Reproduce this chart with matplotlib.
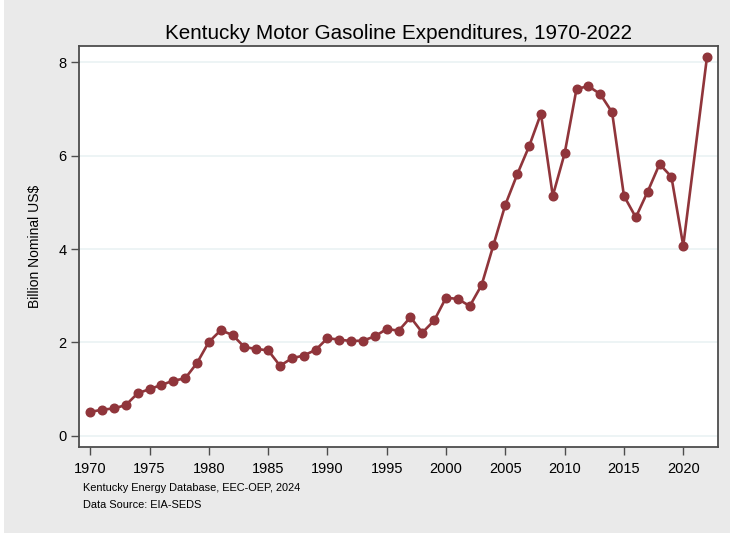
import matplotlib
matplotlib.use('Agg')
import matplotlib.pyplot as plt
import numpy as np

# ===================== data =====================
years = list(range(1970, 2021)) + [2022]
spend = [0.51, 0.56, 0.585, 0.66, 0.91, 1.00, 1.09, 1.18, 1.23, 1.56,
         2.01, 2.26, 2.16, 1.90, 1.86, 1.83, 1.50, 1.66, 1.72, 1.84,
         2.09, 2.06, 2.03, 2.04, 2.13, 2.29, 2.25, 2.54, 2.21, 2.47,
         2.96, 2.93, 2.78, 3.23, 4.09, 4.95, 5.60, 6.20, 6.90, 5.14,
         6.05, 7.43, 7.49, 7.32, 6.93, 5.14, 4.68, 5.23, 5.82, 5.55,
         4.07, 8.11]
xticks = [1970, 1975, 1980, 1985, 1990, 1995, 2000, 2005, 2010, 2015, 2020]
yticks = [0, 2, 4, 6, 8]

plt.rcParams['font.family'] = ['Liberation Sans', 'DejaVu Sans']

bg = '#EAEAEA'
red = '#90353B'

fig = plt.figure(figsize=(7.3, 5.33), dpi=100, facecolor=bg)
# thin white strip on the left edge
fig.patches.append(plt.Rectangle((0, 0), 4 / 730, 1, transform=fig.transFigure,
                                 facecolor='white', edgecolor='none', zorder=0))

ax = fig.add_axes([79 / 730, 1 - 447 / 533, (718 - 79) / 730, (447 - 46) / 533])
ax.set_facecolor('white')

ax.plot(years, spend, color=red, linewidth=1.9, marker='o', markersize=6.2,
        markerfacecolor=red, markeredgecolor=red, zorder=3)

ax.set_xlim(1969.05, 2022.93)
ax.set_ylim(-0.24, 8.35)
ax.set_xticks(xticks)
ax.set_yticks(yticks)
ax.grid(axis='y', color='#EAF2F3', linewidth=1.2)
ax.set_axisbelow(True)

for s in ax.spines.values():
    s.set_color('#4d4d4d')
    s.set_linewidth(1.3)

ax.tick_params(axis='both', direction='out', length=6, width=1, color='#4d4d4d',
               labelsize=10.5, labelcolor='black')
ax.tick_params(axis='x', pad=5)
ax.tick_params(axis='y', pad=3)

ax.set_ylabel('Billion Nominal US$', fontsize=10, labelpad=12)
ax.set_title('Kentucky Motor Gasoline Expenditures, 1970-2022', fontsize=14.85, pad=5)

fig.text(83 / 730, 1 - 488 / 533, 'Kentucky Energy Database, EEC-OEP, 2024',
         fontsize=7.9, va='center')
fig.text(83 / 730, 1 - 505.5 / 533, 'Data Source: EIA-SEDS', fontsize=7.9, va='center')

fig.savefig('out.png', dpi=100, facecolor=bg)
